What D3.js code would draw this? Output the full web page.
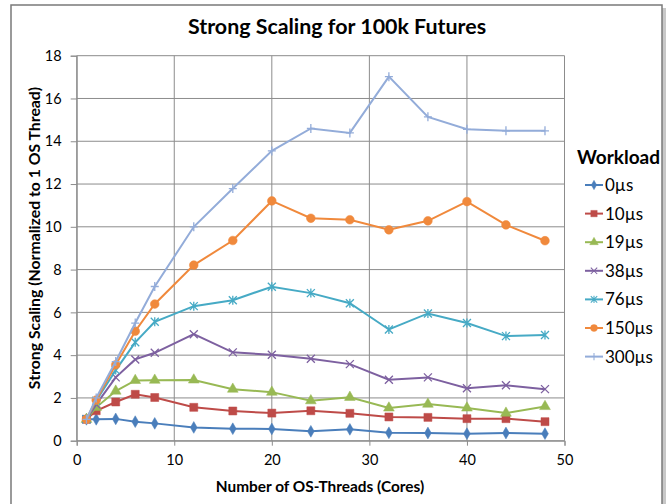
<!DOCTYPE html>
<html>
<head>
<meta charset="utf-8">
<script src="https://cdn.jsdelivr.net/npm/d3@7"></script>
<style>
  body { margin: 0; background: #fff; }
  text { font-family: Lato, "Open Sans", sans-serif; fill: #000; }
</style>
</head>
<body>
<div id="chart"></div>
<script>
const threads = [1, 2, 4, 6, 8, 12, 16, 20, 24, 28, 32, 36, 40, 44, 48]
const workloads = ['0µs', '10µs', '19µs', '38µs', '76µs', '150µs', '300µs']
const w0 = [1.0, 1.0, 1.02, 0.89, 0.81, 0.62, 0.56, 0.55, 0.44, 0.53, 0.37, 0.36, 0.33, 0.36, 0.33]
const w10 = [1.0, 1.40, 1.81, 2.17, 2.02, 1.56, 1.39, 1.29, 1.40, 1.28, 1.11, 1.09, 1.03, 1.03, 0.89]
const w19 = [1.0, 1.56, 2.32, 2.82, 2.83, 2.84, 2.41, 2.27, 1.87, 2.03, 1.53, 1.71, 1.53, 1.29, 1.60]
const w38 = [1.0, 1.70, 2.96, 3.80, 4.11, 4.98, 4.13, 4.02, 3.83, 3.58, 2.85, 2.96, 2.45, 2.59, 2.41]
const w76 = [1.0, 1.87, 3.30, 4.60, 5.56, 6.29, 6.57, 7.20, 6.90, 6.43, 5.20, 5.95, 5.50, 4.89, 4.94]
const w150 = [1.0, 1.90, 3.55, 5.12, 6.39, 8.21, 9.36, 11.21, 10.40, 10.33, 9.86, 10.28, 11.18, 10.09, 9.35]
const w300 = [1.0, 2.00, 3.70, 5.50, 7.21, 10.00, 11.79, 13.55, 14.60, 14.39, 17.02, 15.14, 14.56, 14.49, 14.49]
const seriesValues = [w0, w10, w19, w38, w76, w150, w300]
const xTicks = [0, 10, 20, 30, 40, 50]
const yTicks = [0, 2, 4, 6, 8, 10, 12, 14, 16, 18]

const colors = ['#4a7ebb', '#be4b48', '#98b954', '#7d60a0', '#46aac5', '#f0893c', '#93acd9']
const shapes = ['diamond', 'square', 'triangle', 'cross', 'star', 'circle', 'plus']

const width = 671, height = 504
const svg = d3.select('#chart').append('svg')
  .attr('width', width)
  .attr('height', height)

// chart frame with a soft shadow on the right
svg.append('rect').attr('x', 662).attr('y', 8).attr('width', 4).attr('height', 500).attr('fill', '#c8c8c8')
svg.append('rect').attr('x', 11).attr('y', 5).attr('width', 651).attr('height', 510)
  .attr('fill', '#fff').attr('stroke', '#7a7a7a').attr('stroke-width', 1.5)

const x = d3.scaleLinear().domain([0, 50]).range([76.7, 564.5])
const y = d3.scaleLinear().domain([0, 18]).range([440.7, 55.7])

// gridlines
svg.append('g').selectAll('line').data(yTicks).enter().append('line')
  .attr('x1', x(0)).attr('x2', x(50))
  .attr('y1', d => y(d)).attr('y2', d => y(d))
  .attr('stroke', '#8c8c8c').attr('stroke-width', 1)
svg.append('g').selectAll('line').data(xTicks).enter().append('line')
  .attr('x1', d => x(d)).attr('x2', d => x(d))
  .attr('y1', y(0)).attr('y2', y(18))
  .attr('stroke', '#8c8c8c').attr('stroke-width', 1)

// axes
const yAxis = svg.append('g')
  .attr('transform', `translate(${x(0)},0)`)
  .call(d3.axisLeft(y).tickValues(yTicks).tickSize(6).tickPadding(9))
const xAxis = svg.append('g')
  .attr('transform', `translate(0,${y(0)})`)
  .call(d3.axisBottom(x).tickValues(xTicks).tickSize(5).tickPadding(9))
for (const ax of [yAxis, xAxis]) {
  ax.select('.domain').attr('stroke', '#8c8c8c')
  ax.selectAll('.tick line').attr('stroke', '#8c8c8c')
  ax.selectAll('.tick text').attr('font-size', 14.5).attr('font-family', 'Lato, sans-serif')
}

const symbolPath = (shape) => {
  switch (shape) {
    case 'diamond': return d3.symbol(d3.symbolDiamond, 40)()
    case 'square': return d3.symbol(d3.symbolSquare, 64)()
    case 'triangle': return d3.symbol(d3.symbolTriangle, 50)()
    case 'circle': return d3.symbol(d3.symbolCircle, 60)()
    case 'cross': return 'M-4,-4L4,4M-4,4L4,-4'
    case 'star': return 'M-4,-4L4,4M-4,4L4,-4M0,-4.5L0,4.5'
    case 'plus': return 'M-4,0L4,0M0,-4.5L0,4.5'
  }
}
const filled = s => ['diamond', 'square', 'triangle', 'circle'].includes(s)

const line = d3.line().x((d, i) => x(threads[i])).y(d => y(d))

seriesValues.forEach((vals, k) => {
  const g = svg.append('g')
  g.append('path').datum(vals)
    .attr('d', line)
    .attr('fill', 'none')
    .attr('stroke', colors[k])
    .attr('stroke-width', 2)
  g.selectAll('path.m').data(vals).enter().append('path')
    .attr('class', 'm')
    .attr('transform', (d, i) => `translate(${x(threads[i])},${y(d)})`)
    .attr('d', symbolPath(shapes[k]))
    .attr('fill', filled(shapes[k]) ? colors[k] : 'none')
    .attr('stroke', colors[k])
    .attr('stroke-width', filled(shapes[k]) ? 0.5 : 1.3)
})

// titles
svg.append('text').attr('x', 337).attr('y', 34).attr('text-anchor', 'middle')
  .attr('font-size', 21.4).attr('font-weight', 'bold')
  .text('Strong Scaling for 100k Futures')
svg.append('text').attr('x', 320).attr('y', 492).attr('text-anchor', 'middle')
  .attr('font-size', 15.4).attr('font-weight', 'bold')
  .text('Number of OS-Threads (Cores)')
svg.append('text').attr('transform', 'translate(40,238) rotate(-90)').attr('text-anchor', 'middle')
  .attr('font-size', 15.8).attr('font-weight', 'bold')
  .text('Strong Scaling (Normalized to 1 OS Thread)')

// legend
const legend = svg.append('g')
legend.append('text').attr('x', 577).attr('y', 164)
  .attr('font-size', 19).attr('font-weight', 'bold').text('Workload')
workloads.forEach((name, k) => {
  const ly = 185 + k * 28.6
  legend.append('line').attr('x1', 585).attr('x2', 603).attr('y1', ly).attr('y2', ly)
    .attr('stroke', colors[k]).attr('stroke-width', 2)
  legend.append('path').attr('transform', `translate(594,${ly}) scale(0.8)`)
    .attr('d', symbolPath(shapes[k]))
    .attr('fill', filled(shapes[k]) ? colors[k] : 'none')
    .attr('stroke', colors[k]).attr('stroke-width', filled(shapes[k]) ? 0.5 : 1.3)
  legend.append('text').attr('x', 605).attr('y', ly + 6)
    .attr('font-size', 17).text(name)
})
</script>
</body>
</html>
